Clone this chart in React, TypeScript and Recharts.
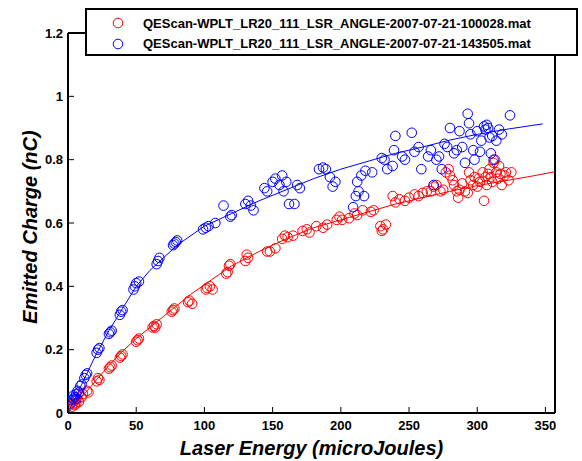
import { ScatterChart, Scatter, XAxis, YAxis } from "recharts";

const X_TICKS = [0, 50, 100, 150, 200, 250, 300, 350];
const Y_TICKS = [0, 0.2, 0.4, 0.6, 0.8, 1, 1.2];

const SERIES_NAMES = [
    "QEScan-WPLT_LR20_111_LSR_ANGLE-2007-07-21-100028.mat",
    "QEScan-WPLT_LR20_111_LSR_ANGLE-2007-07-21-143505.mat",
];

// [laser energy, charge]
const RED_POINTS = [
    [3, 0.02], [4, 0.03], [5, 0.025], [5, 0.04], [6, 0.03], [7, 0.045], [8, 0.035], [10, 0.05],
    [11, 0.06], [14, 0.07], [15, 0.065], [21, 0.1], [22, 0.11], [23, 0.105], [30, 0.14], [31, 0.145],
    [32, 0.15], [38, 0.175], [39, 0.18], [40, 0.185], [50, 0.225], [51, 0.23], [52, 0.235], [62, 0.27],
    [63, 0.275], [64, 0.27], [65, 0.28], [76, 0.32], [77, 0.325], [78, 0.33], [88, 0.35], [89, 0.355],
    [91, 0.345], [101, 0.39], [102, 0.395], [104, 0.4], [106, 0.39], [116, 0.44], [117, 0.445], [118, 0.465],
    [119, 0.47], [130, 0.48], [131, 0.5], [132, 0.49], [146, 0.51], [148, 0.51], [152, 0.52], [157, 0.55],
    [159, 0.56], [161, 0.555], [165, 0.56], [172, 0.575], [175, 0.58], [177, 0.57], [182, 0.59], [187, 0.585],
    [190, 0.595], [197, 0.61], [199, 0.62], [201, 0.61], [206, 0.615], [210, 0.63], [212, 0.625], [216, 0.64],
    [222, 0.635], [224, 0.64], [229, 0.59], [230, 0.575], [231, 0.58], [233, 0.595], [238, 0.685], [240, 0.665],
    [243, 0.675], [247, 0.67], [250, 0.68], [254, 0.69], [257, 0.685], [260, 0.695], [263, 0.7], [266, 0.7],
    [268, 0.715], [270, 0.72], [273, 0.7], [275, 0.705], [277, 0.76], [279, 0.77], [280, 0.75], [282, 0.735],
    [283, 0.72], [285, 0.7], [286, 0.68], [287, 0.705], [289, 0.725], [291, 0.7], [293, 0.695], [294, 0.76],
    [295, 0.735], [297, 0.72], [298, 0.745], [300, 0.715], [301, 0.74], [302, 0.73], [304, 0.76], [305, 0.67],
    [306, 0.745], [307, 0.72], [308, 0.755], [309, 0.77], [310, 0.745], [311, 0.73], [312, 0.79], [313, 0.8],
    [314, 0.76], [315, 0.74], [316, 0.78], [317, 0.755], [318, 0.72], [320, 0.75], [321, 0.76], [323, 0.735],
    [325, 0.76],
];

const BLUE_POINTS = [
    [2, 0.03], [3, 0.04], [4, 0.045], [4, 0.055], [5, 0.05], [6, 0.06], [6, 0.045], [7, 0.07],
    [8, 0.065], [9, 0.085], [10, 0.09], [12, 0.11], [13, 0.12], [14, 0.125], [21, 0.19], [22, 0.2],
    [23, 0.205], [30, 0.25], [31, 0.255], [32, 0.26], [38, 0.31], [39, 0.32], [40, 0.325], [48, 0.39],
    [49, 0.4], [50, 0.41], [52, 0.415], [65, 0.47], [66, 0.48], [67, 0.49], [77, 0.53], [78, 0.535],
    [79, 0.54], [80, 0.545], [99, 0.58], [101, 0.585], [103, 0.59], [108, 0.6], [114, 0.655], [119, 0.62],
    [120, 0.625], [130, 0.66], [132, 0.67], [134, 0.655], [136, 0.64], [144, 0.71], [146, 0.7], [150, 0.73],
    [152, 0.74], [155, 0.72], [157, 0.75], [158, 0.7], [160, 0.73], [162, 0.66], [166, 0.66], [168, 0.72],
    [170, 0.71], [184, 0.77], [187, 0.775], [189, 0.77], [192, 0.745], [194, 0.715], [196, 0.73], [209, 0.65],
    [211, 0.685], [212, 0.73], [213, 0.7], [215, 0.75], [217, 0.685], [218, 0.765], [223, 0.76], [230, 0.805],
    [232, 0.8], [234, 0.77], [238, 0.78], [239, 0.83], [240, 0.875], [245, 0.81], [247, 0.8], [252, 0.885],
    [254, 0.825], [257, 0.84], [259, 0.77], [264, 0.81], [266, 0.83], [268, 0.72], [270, 0.8], [272, 0.81],
    [274, 0.77], [276, 0.85], [278, 0.84], [280, 0.9], [283, 0.82], [285, 0.83], [287, 0.89], [289, 0.84],
    [291, 0.79], [293, 0.945], [294, 0.915], [295, 0.88], [297, 0.83], [298, 0.8], [300, 0.89], [302, 0.825],
    [303, 0.86], [305, 0.905], [306, 0.895], [307, 0.91], [308, 0.9], [309, 0.87], [310, 0.82], [311, 0.875],
    [312, 0.8], [314, 0.86], [316, 0.895], [318, 0.88], [324, 0.94],
];

// fitted curves
const RED_FIT = [
    [0, 0], [10, 0.05], [20, 0.1], [30, 0.15], [40, 0.195], [50, 0.235], [60, 0.27], [70, 0.305],
    [80, 0.34], [90, 0.375], [100, 0.405], [120, 0.465], [140, 0.51], [160, 0.55], [180, 0.585],
    [200, 0.61], [220, 0.635], [240, 0.66], [260, 0.68], [280, 0.7], [300, 0.718], [320, 0.733],
    [340, 0.748], [357, 0.762],
];

const BLUE_FIT = [
    [0, 0], [10, 0.09], [20, 0.18], [30, 0.26], [40, 0.33], [50, 0.4], [60, 0.45], [70, 0.49],
    [80, 0.53], [100, 0.59], [120, 0.63], [140, 0.67], [160, 0.705], [180, 0.74], [200, 0.77],
    [220, 0.795], [240, 0.82], [260, 0.84], [280, 0.862], [300, 0.88], [320, 0.895], [340, 0.908],
    [348, 0.913],
];

const RED = "#ff0000";
const BLUE = "#0000ff";
const FONT = "Arial, 'Liberation Sans', sans-serif";

const toXY = (pts: number[][]) => pts.map(([x, y]) => ({ x, y }));

const fmt = (v: number) => String(Math.round(v * 10) / 10);

function XTick(props: any) {
    const { x, y, payload } = props;
    return (
        <g>
            <line x1={x} y1={y} x2={x} y2={y - 6} stroke="#000" />
            <text x={x} y={y + 17} textAnchor="middle" fontSize={13} fontWeight="bold" fontFamily={FONT} fill="#000">
                {payload.value}
            </text>
        </g>
    );
}

function YTick(props: any) {
    const { x, y, payload } = props;
    return (
        <g>
            <line x1={x} y1={y} x2={x + 6} y2={y} stroke="#000" />
            <text x={x - 5} y={y + 4.5} textAnchor="end" fontSize={13} fontWeight="bold" fontFamily={FONT} fill="#000">
                {fmt(payload.value)}
            </text>
        </g>
    );
}

function RightTick(props: any) {
    const { x, y } = props;
    return <line x1={x} y1={y} x2={x - 6} y2={y} stroke="#000" />;
}

const dot = (color: string) => (p: any) => (
    <circle cx={p.cx} cy={p.cy} r={4.8} fill="none" stroke={color} strokeWidth={1} />
);

const noDot = () => <g />;

const AXIS_LINE = { stroke: "#000", strokeWidth: 2 };

export default function App() {
    return (
        <div style={{ position: "absolute", left: 0, top: 0, width: 582, height: 461, background: "#fff" }}>
            <ScatterChart width={582} height={461} margin={{ top: 23, right: 17, bottom: 18, left: 28 }}>
                <XAxis
                    type="number"
                    dataKey="x"
                    domain={[0, 357]}
                    ticks={X_TICKS}
                    height={30}
                    tickSize={0}
                    tickMargin={0}
                    tick={<XTick />}
                    axisLine={AXIS_LINE}
                    allowDataOverflow
                />
                <XAxis
                    xAxisId="top"
                    orientation="top"
                    type="number"
                    dataKey="x"
                    domain={[0, 357]}
                    height={10}
                    tick={false}
                    tickLine={false}
                    axisLine={AXIS_LINE}
                />
                <YAxis
                    type="number"
                    dataKey="y"
                    domain={[0, 1.2]}
                    ticks={Y_TICKS}
                    width={40}
                    tickSize={0}
                    tickMargin={0}
                    tick={<YTick />}
                    axisLine={AXIS_LINE}
                    allowDataOverflow
                />
                <YAxis
                    yAxisId="right"
                    orientation="right"
                    type="number"
                    dataKey="y"
                    domain={[0, 1.2]}
                    ticks={Y_TICKS}
                    width={10}
                    tickSize={0}
                    tickMargin={0}
                    tick={<RightTick />}
                    axisLine={AXIS_LINE}
                />
                <Scatter data={toXY(RED_POINTS)} shape={dot(RED)} isAnimationActive={false} />
                <Scatter data={toXY(BLUE_POINTS)} shape={dot(BLUE)} isAnimationActive={false} />
                <Scatter data={toXY(RED_FIT)} shape={noDot} line={{ stroke: RED, strokeWidth: 1 }} lineType="joint" isAnimationActive={false} />
                <Scatter data={toXY(BLUE_FIT)} shape={noDot} line={{ stroke: BLUE, strokeWidth: 1 }} lineType="joint" isAnimationActive={false} />
            </ScatterChart>

            <div
                style={{
                    position: "absolute", left: 85, top: 8, width: 489, height: 44,
                    border: "2px solid #000", background: "#fff",
                    fontFamily: FONT, fontSize: 13, fontWeight: "bold",
                }}
            >
                {SERIES_NAMES.map((name, i) => (
                    <div key={name} style={{ position: "absolute", left: 0, top: 4 + i * 20.5, height: 18, display: "flex", alignItems: "center" }}>
                        <svg width={56} height={18}>
                            <circle cx={31} cy={9} r={4.8} fill="none" stroke={i === 0 ? RED : BLUE} />
                        </svg>
                        <span>{name}</span>
                    </div>
                ))}
            </div>

            <div
                style={{
                    position: "absolute", left: 0, top: 437, width: 623, textAlign: "center",
                    fontFamily: FONT, fontSize: 20, fontWeight: "bold", fontStyle: "italic",
                }}
            >
                Laser Energy (microJoules)
            </div>
            <div
                style={{
                    position: "absolute", left: 30, top: 227, transform: "translate(-50%, -50%) rotate(-90deg)",
                    whiteSpace: "nowrap", fontFamily: FONT, fontSize: 20, fontWeight: "bold", fontStyle: "italic",
                }}
            >
                Emitted Charge (nC)
            </div>
        </div>
    );
}
